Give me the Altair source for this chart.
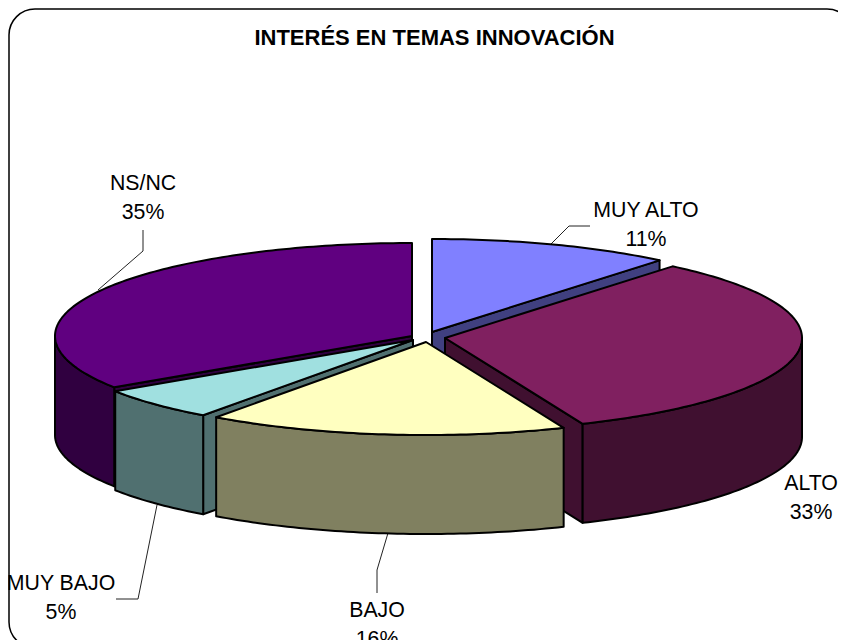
import math
import altair as alt

# ---- values ----
categories = ["MUY ALTO", "ALTO", "BAJO", "MUY BAJO", "NS/NC"]
percent_labels = [11, 33, 16, 5, 35]
# share of the circle each drawn slice takes (the 3D view distorts them a little)
drawn_share = [11.0, 32.7, 16.3, 5.7, 34.3]
top_colors = ["#8080FF", "#802060", "#FFFFC0", "#A0E0E0", "#600080"]
side_colors = ["#404080", "#401030", "#808060", "#507070", "#300040"]
title_text = "INTERÉS EN TEMAS INNOVACIÓN"

# ---- layout (page pixels) ----
RX, RY, DEPTH = 357, 93, 99
APEX = {"MUY ALTO": (432, 332), "ALTO": (445, 338), "BAJO": (426, 342),
        "MUY BAJO": (413, 340), "NS/NC": (412, 336)}
PAINT_ORDER = ["MUY ALTO", "NS/NC", "ALTO", "MUY BAJO", "BAJO"]
LABEL_POS = {"MUY ALTO": (646, 211), "ALTO": (811, 484), "BAJO": (377, 611),
             "MUY BAJO": (61, 584), "NS/NC": (143, 184)}
LINE_GAP = 29
TITLE_POS = (434.5, 38)
LEADERS = {"MUY ALTO": [(550, 245), (569, 226), (590, 226)],
           "NS/NC": [(143, 230), (143, 251), (98, 290)],
           "MUY BAJO": [(157, 505), (138, 599), (116, 599)],
           "BAJO": [(388, 533), (377, 570), (377, 593)]}
FONT = "Liberation Sans"


def to_svg(p):
    return [p[0] - 8, p[1] - 8]


def feature(ring, fill):
    ring = [to_svg(p) for p in ring]
    if ring[0] != ring[-1]:
        ring.append(ring[0])
    return {"type": "Feature", "properties": {"fill": fill},
            "geometry": {"type": "Polygon", "coordinates": [ring]}}


def rim(apex, deg):
    r = math.radians(deg)
    return (apex[0] + RX * math.sin(r), apex[1] - RY * math.cos(r))


def sweep(a, b):
    n = max(2, int(abs(b - a)) + 1)
    return [a + (b - a) * i / (n - 1) for i in range(n)]


def drop(p):
    return (p[0], p[1] + DEPTH)


# angle spans from the shares, clockwise from 12 o'clock
spans, cum = {}, 0.0
for name, share in zip(categories, drawn_share):
    spans[name] = (cum * 3.6, (cum + share) * 3.6)
    cum += share

polys = []
for name in PAINT_ORDER:
    i = categories.index(name)
    a, b = spans[name]
    apex = APEX[name]
    side, top = side_colors[i], top_colors[i]
    if math.sin(math.radians(a)) < -1e-6:
        s = rim(apex, a)
        polys.append(feature([apex, s, drop(s), drop(apex)], side))
    if math.sin(math.radians(b)) > 1e-6:
        e = rim(apex, b)
        polys.append(feature([apex, e, drop(e), drop(apex)], side))
    lo, hi = max(a, 90), min(b, 270)
    if hi > lo:
        arc = [rim(apex, d) for d in sweep(lo, hi)]
        polys.append(feature(arc + [drop(p) for p in reversed(arc)], side))
    polys.append(feature([apex] + [rim(apex, d) for d in sweep(a, b)], top))

leader_features = [
    {"type": "Feature", "properties": {"name": k},
     "geometry": {"type": "LineString", "coordinates": [to_svg(p) for p in v]}}
    for k, v in LEADERS.items()
]

label_rows = []
for name, pct in zip(categories, percent_labels):
    x, y = LABEL_POS[name]
    for t, yy in ((name, y), (f"{pct}%", y + LINE_GAP)):
        sx, sy = to_svg((x, yy))
        label_rows.append({"t": t, "lx": sx, "ly": sy})

tx, ty = to_svg(TITLE_POS)
title_rows = [{"t": title_text, "lx": tx, "ly": ty}]

proj = dict(type="identity", scale=1, translate=[0, 0])

frame = alt.Chart(alt.Data(values=[{"a": 1}])).mark_rect(
    fill="white", stroke="black", strokeWidth=1.5, cornerRadius=26
).encode(x=alt.value(1), x2=alt.value(845), y=alt.value(1), y2=alt.value(640))

slices = alt.Chart(alt.Data(values=polys)).mark_geoshape(
    stroke="black", strokeWidth=2, strokeJoin="round"
).encode(fill=alt.Color("properties.fill:N", scale=None)).project(**proj)

leaders = alt.Chart(alt.Data(values=leader_features)).mark_geoshape(
    filled=False, stroke="#222222", strokeWidth=1
).project(**proj)

labels = alt.Chart(alt.Data(values=label_rows)).mark_text(
    font=FONT, fontSize=21.3, color="black", align="center", baseline="middle"
).encode(
    x=alt.X("lx:Q", scale=None, axis=None),
    y=alt.Y("ly:Q", scale=None, axis=None),
    text="t:N",
)

title = alt.Chart(alt.Data(values=title_rows)).mark_text(
    font=FONT, fontSize=22, fontWeight="bold", color="black",
    align="center", baseline="middle"
).encode(
    x=alt.X("lx:Q", scale=None, axis=None),
    y=alt.Y("ly:Q", scale=None, axis=None),
    text="t:N",
)

chart = alt.layer(frame, leaders, slices, labels, title).properties(
    width=830, height=640, padding=0,
    autosize=alt.AutoSizeParams(type="none"),
    background="white",
).configure_view(stroke=None)

chart.save("out.html", embed_options={"renderer": "svg", "actions": False})
